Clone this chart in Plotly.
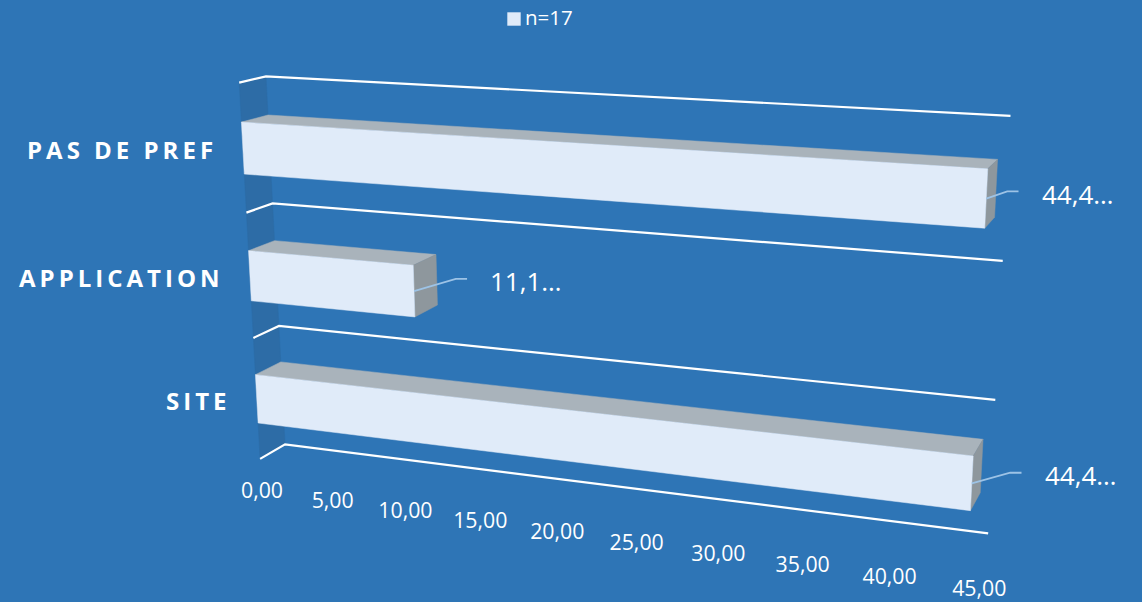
import numpy as np
import plotly.graph_objects as go

categories = ["SITE", "APPLICATION", "PAS DE PREF"]
values = [44.44, 11.11, 44.44]
value_labels = ["44,4…", "11,1…", "44,4…"]
tick_values = [0, 5, 10, 15, 20, 25, 30, 35, 40, 45]
tick_labels = ["0,00", "5,00", "10,00", "15,00", "20,00", "25,00", "30,00", "35,00", "40,00", "45,00"]
series_name = "n=17"

AXIS_MAX = 45
BAR_LOW, BAR_HIGH = 0.3, 0.7  # share of each category band filled by its bar

BG = "#2E75B6"
WALL = "#2D6CA6"
FRONT = "#E0EBF9"
TOP = "#A9B3BB"
SIDE = "#8E979D"
LEADER = "#9DC3E6"
FONT = "Open Sans"

# Perspective camera: (value, category position, depth) -> page pixel
CAMERA = np.array([
    [13.218829540943178, -11.194730890372846, 31.68424249413649, 260.0875818150164],
    [0.5274702101041037, -126.87634937583451, -4.0566260143766755, 458.84013419069754],
    [-0.0028081847444941686, -0.017685094061839893, 0.023602636469781262, 1.0],
])

# Elbow and end of each label leader, relative to where it leaves the bar
LEADER_ELBOW = [(38.4, -10.7), (41.7, -12.4), (21.0, -7.3)]
LEADER_RUN = 11.3
LABEL_GAP = 21


def project(value, position, depth):
    h = CAMERA @ np.array([value, position, depth, 1.0])
    return h[0] / h[2], h[1] / h[2]


def polygon(corners, color):
    pts = [project(*c) for c in corners]
    return go.Scatter(
        x=[p[0] for p in pts] + [pts[0][0]],
        y=[p[1] for p in pts] + [pts[0][1]],
        mode="lines", fill="toself", fillcolor=color,
        line=dict(color=color, width=0.5),
        hoverinfo="skip", showlegend=False,
    )


fig = go.Figure()

# Side wall behind the bars
n = len(categories)
fig.add_trace(polygon([(0, 0, 0), (0, 0, 1), (0, n, 1), (0, n, 0)], WALL))

# Gridlines at the category boundaries, wrapping from the wall onto the back plane
for c in range(n + 1):
    pts = [project(0, c, 0), project(0, c, 1), project(AXIS_MAX, c, 1)]
    fig.add_trace(go.Scatter(
        x=[p[0] for p in pts], y=[p[1] for p in pts], mode="lines",
        line=dict(color="white", width=2.2), hoverinfo="skip", showlegend=False,
    ))

annotations = []

# Bars, leaders and value labels
for c, (value, text) in enumerate(zip(values, value_labels)):
    lo, hi = c + BAR_LOW, c + BAR_HIGH
    fig.add_trace(polygon([(0, hi, 0), (value, hi, 0), (value, hi, 1), (0, hi, 1)], TOP))
    fig.add_trace(polygon([(value, lo, 0), (value, hi, 0), (value, hi, 1), (value, lo, 1)], SIDE))
    fig.add_trace(polygon([(0, lo, 0), (value, lo, 0), (value, hi, 0), (0, hi, 0)], FRONT))

    sx, sy = project(value, c + 0.5, 0)
    ex, ey = LEADER_ELBOW[c]
    fig.add_trace(go.Scatter(
        x=[sx, sx + ex, sx + ex + LEADER_RUN], y=[sy, sy + ey, sy + ey],
        mode="lines", line=dict(color=LEADER, width=1.8),
        hoverinfo="skip", showlegend=False,
    ))
    annotations.append(dict(
        x=sx + ex + LEADER_RUN + LABEL_GAP, y=sy + ey + 2.5, text=text,
        xref="x", yref="y", xanchor="left", yanchor="middle", showarrow=False,
        font=dict(family=FONT, size=26, color="white"),
    ))

# Category labels, tracked out to the left of the wall
for c, name in enumerate(categories):
    x, y = project(0, c + 0.5, 0)
    annotations.append(dict(
        x=x - 24, y=y + 1.5,
        text=f'<span style="letter-spacing:4px">{name}</span>',
        xref="x", yref="y", xanchor="right", yanchor="middle", showarrow=False,
        font=dict(family=FONT, size=24, color="white", weight="bold"),
    ))

# Value axis labels below the front edge of the floor
tick_pts = [project(v, -0.29, 0) for v in tick_values]
fig.add_trace(go.Scatter(
    x=[p[0] + v * 0.06 for p, v in zip(tick_pts, tick_values)],
    y=[p[1] for p in tick_pts], text=tick_labels,
    mode="text", textposition="middle center",
    textfont=dict(family=FONT, size=21.3, color="white"),
    hoverinfo="skip", showlegend=False,
))

# Series key above the plot
fig.add_trace(go.Scatter(
    x=[514], y=[19], mode="markers", name=series_name,
    marker=dict(symbol="square", size=13.4, color=FRONT),
    hoverinfo="skip", showlegend=False,
))
fig.add_trace(go.Scatter(
    x=[525], y=[20], mode="text", text=[series_name],
    textposition="middle right",
    textfont=dict(family=FONT, size=20.5, color="white"),
    hoverinfo="skip", showlegend=False,
))

fig.update_layout(
    width=1142, height=602, margin=dict(l=0, r=0, t=0, b=0),
    paper_bgcolor=BG, plot_bgcolor=BG,
    xaxis=dict(range=[0, 1142], visible=False, fixedrange=True),
    yaxis=dict(range=[602, 0], visible=False, fixedrange=True),
    showlegend=False,
    annotations=annotations,
)

fig.write_html("out.html")
